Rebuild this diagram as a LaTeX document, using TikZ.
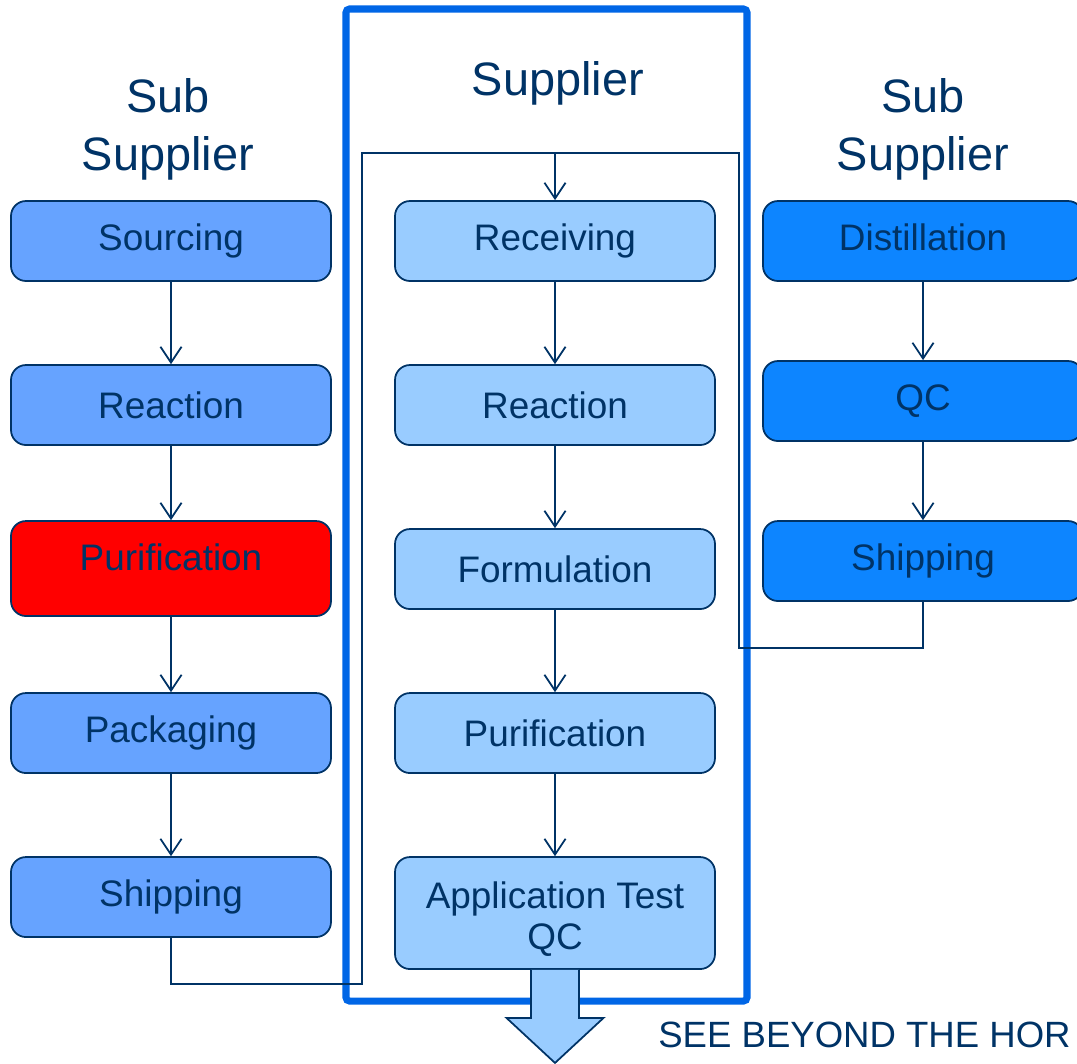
\documentclass[tikz,border=0pt]{standalone}
\usepackage{fontspec}
\setmainfont{Liberation Sans}
\usepackage{xcolor}
\usepackage{tikz}
\usetikzlibrary{arrows.meta, positioning, calc}
\definecolor{navy}{RGB}{0, 51, 102}
\definecolor{subfill}{RGB}{102, 163, 255}
\definecolor{supfill}{RGB}{153, 204, 255}
\definecolor{rawfill}{RGB}{13, 133, 255}
\definecolor{framecol}{RGB}{0, 102, 230}
\definecolor{alert}{RGB}{255, 0, 0}

\begin{document}
\begin{tikzpicture}[
    boxstep/.style={rectangle, draw=navy, line width=1pt, rounded corners=0.3cm,
                    minimum width=6.4cm, minimum height=1.6cm, align=center,
                    text=navy, font=\fontsize{21}{23}\selectfont},
    title/.style={align=center, text=navy, font=\fontsize{26.7}{33}\selectfont},
    arrow/.style={-{Straight Barb[length=9pt, width=12pt]}, line width=1pt, navy},
    link/.style={line width=1pt, navy}
]
\useasboundingbox (0,0) rectangle (21.54,-21.26);

% Supplier frame
\draw[framecol, line width=4pt, rounded corners=2pt] (6.92,-0.18) rectangle (14.94,-20.02);

% Titles
\node[title] (tleft) at (3.36,-2.58) {Sub\\Supplier};
\node[title] (tmid) at (11.16,-1.66) {Supplier};
\node[title] (tright) at (18.46,-2.58) {Sub\\Supplier};

% Left sub supplier
\node[boxstep, fill=subfill] (lsrc) at (3.42,-4.82) {Sourcing};
\node[boxstep, fill=subfill, below=1.645cm of lsrc] (lreact) {Reaction};
\node[boxstep, fill=alert, minimum height=1.9cm, text depth=13pt, below=1.485cm of lreact] (lpur) {Purification};
\node[boxstep, fill=subfill, below=1.505cm of lpur] (lpack) {Packaging};
\node[boxstep, fill=subfill, below=1.645cm of lpack] (lship) {Shipping};

% Supplier
\node[boxstep, fill=supfill] (recv) at (11.1,-4.82) {Receiving};
\node[boxstep, fill=supfill, below=1.645cm of recv] (mreact) {Reaction};
\node[boxstep, fill=supfill, below=1.645cm of mreact] (form) {Formulation};
\node[boxstep, fill=supfill, below=1.645cm of form] (mpur) {Purification};
\node[boxstep, fill=supfill, minimum height=2.24cm, below=1.645cm of mpur] (appqc) {\rule{0pt}{22pt}Application Test\\QC};

% Right sub supplier
\node[boxstep, fill=rawfill, text depth=4pt] (dist) at (18.46,-4.82) {Distillation};
\node[boxstep, fill=rawfill, below=1.565cm of dist] (rqc) {QC};
\node[boxstep, fill=rawfill, below=1.565cm of rqc] (rship) {Shipping};

% Bends
\coordinate (topbus) at (11.1,-3.06);
\coordinate (lbend) at (7.24,-19.68);
\coordinate (rbend) at (14.78,-12.96);

% Arrows
\draw[arrow] (lsrc) -- (lreact);
\draw[arrow] (lreact) -- (lpur);
\draw[arrow] (lpur) -- (lpack);
\draw[arrow] (lpack) -- (lship);
\draw[arrow] (recv) -- (mreact);
\draw[arrow] (mreact) -- (form);
\draw[arrow] (form) -- (mpur);
\draw[arrow] (mpur) -- (appqc);
\draw[arrow] (dist) -- (rqc);
\draw[arrow] (rqc) -- (rship);
\draw[link] (lship.south) |- (lbend) |- (topbus);
\draw[link] (rship.south) |- (rbend) |- (topbus);
\draw[arrow] (topbus) -- (recv.north);

% Output
\draw[navy, line width=1pt, fill=supfill]
    ($(appqc.south)+(-0.48,0)$) -- ++(0,-0.96) -- ++(-0.49,0)
    -- ($(appqc.south)+(0,-1.86)$)
    -- ($(appqc.south)+(0.97,-0.96)$) -- ++(-0.49,0) -- ($(appqc.south)+(0.48,0)$);
\node[anchor=base west, inner sep=0pt, text=navy, font=\fontsize{20.8}{23}\selectfont] (motto) at (13.16,-20.94) {SEE BEYOND THE HOR};

\end{tikzpicture}
\end{document}
